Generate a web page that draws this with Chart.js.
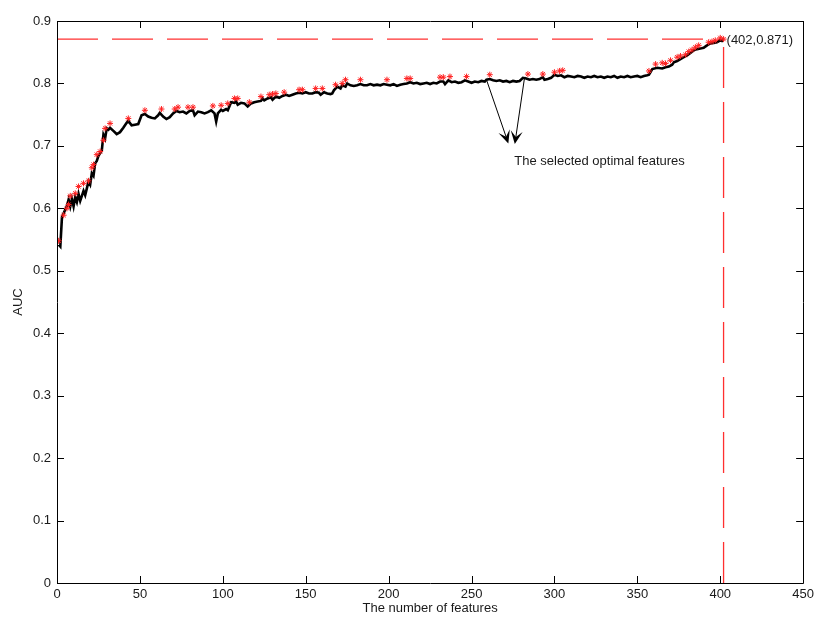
<!DOCTYPE html>
<html>
<head>
<meta charset="utf-8">
<script src="https://cdn.jsdelivr.net/npm/chart.js@4/dist/chart.umd.min.js"></script>
<style>
  html, body { margin: 0; padding: 0; background: #fff; }
  #wrap { width: 818px; height: 617px; }
</style>
</head>
<body>
<div id="wrap"><canvas id="auc" width="818" height="617"></canvas></div>
<script>
// AUC of the classifier as features are added one by one
const featureCount = [
  1, 2, 3, 4, 5, 6, 7, 8, 9, 10, 11, 12, 13, 14, 15, 16, 17, 18, 19, 20,
  21, 22, 23, 24, 25, 26, 27, 28, 29, 30, 31, 32, 34, 36, 38, 40, 42, 43, 45, 47,
  49, 51, 53, 55, 57, 59, 61, 62, 64, 66, 68, 70, 72, 74, 76, 78, 80, 82, 83, 85,
  87, 89, 91, 93, 95, 96, 97, 99, 100, 102, 103, 105, 107, 108, 109, 111, 113, 115, 117, 119,
  121, 123, 124, 125, 127, 129, 130, 132, 134, 136, 138, 140, 142, 144, 146, 148, 150, 152, 154, 156,
  158, 159, 161, 163, 165, 166, 167, 169, 171, 172, 174, 175, 177, 179, 181, 183, 185, 187, 189, 191,
  193, 195, 197, 199, 201, 203, 205, 207, 209, 211, 213, 215, 217, 219, 221, 223, 225, 227, 229, 231,
  233, 234, 236, 238, 240, 242, 244, 246, 248, 250, 252, 254, 256, 258, 259, 261, 263, 265, 267, 269,
  271, 273, 275, 277, 279, 281, 283, 285, 287, 289, 291, 293, 294, 296, 298, 300, 302, 304, 306, 308,
  310, 312, 314, 316, 318, 320, 322, 324, 326, 328, 330, 332, 334, 336, 338, 340, 342, 344, 346, 348,
  350, 352, 354, 356, 357, 359, 362, 365, 367, 369, 371, 372, 374, 376, 378, 380, 382, 384, 386, 388,
  390, 392, 394, 396, 398, 400, 401, 402
];
const aucValues = [
  0.542, 0.539, 0.586, 0.592, 0.598, 0.604, 0.614, 0.603, 0.615, 0.603, 0.618, 0.610, 0.623, 0.612, 0.620, 0.628, 0.621, 0.632, 0.643, 0.638,
  0.656, 0.652, 0.672, 0.676, 0.684, 0.688, 0.692, 0.718, 0.712, 0.728, 0.726, 0.729, 0.724, 0.719, 0.722, 0.729, 0.737, 0.740, 0.733, 0.734,
  0.735, 0.749, 0.751, 0.747, 0.745, 0.744, 0.749, 0.753, 0.747, 0.743, 0.746, 0.752, 0.756, 0.754, 0.755, 0.752, 0.756, 0.757, 0.749, 0.755,
  0.754, 0.752, 0.754, 0.757, 0.752, 0.739, 0.752, 0.758, 0.756, 0.759, 0.757, 0.770, 0.769, 0.771, 0.766, 0.769, 0.768, 0.763, 0.768, 0.770,
  0.771, 0.772, 0.776, 0.773, 0.776, 0.778, 0.774, 0.779, 0.777, 0.780, 0.782, 0.780, 0.782, 0.784, 0.785, 0.784, 0.786, 0.784, 0.784, 0.786,
  0.785, 0.782, 0.786, 0.784, 0.783, 0.784, 0.789, 0.795, 0.792, 0.797, 0.795, 0.800, 0.797, 0.796, 0.797, 0.799, 0.797, 0.797, 0.799, 0.797,
  0.798, 0.797, 0.799, 0.798, 0.797, 0.799, 0.796, 0.798, 0.799, 0.800, 0.802, 0.800, 0.801, 0.799, 0.800, 0.801, 0.799, 0.801, 0.800, 0.803,
  0.803, 0.799, 0.805, 0.802, 0.803, 0.801, 0.802, 0.805, 0.803, 0.801, 0.803, 0.802, 0.804, 0.803, 0.806, 0.807, 0.805, 0.804, 0.805, 0.803,
  0.804, 0.802, 0.804, 0.803, 0.804, 0.809, 0.808, 0.806, 0.807, 0.806, 0.807, 0.810, 0.806, 0.807, 0.809, 0.814, 0.812, 0.813, 0.810, 0.812,
  0.811, 0.810, 0.812, 0.811, 0.809, 0.811, 0.810, 0.812, 0.810, 0.811, 0.809, 0.811, 0.810, 0.812, 0.809, 0.811, 0.810, 0.812, 0.810, 0.811,
  0.812, 0.810, 0.812, 0.813, 0.814, 0.823, 0.825, 0.824, 0.826, 0.827, 0.830, 0.834, 0.836, 0.839, 0.842, 0.845, 0.849, 0.853, 0.855, 0.856,
  0.857, 0.861, 0.864, 0.865, 0.866, 0.869, 0.868, 0.871
];

// feature subsets marked as selected (red asterisks)
const starFeatures = [
  1, 4, 6, 7, 8, 11, 13, 16, 19, 21, 22, 24, 26, 28, 29, 32, 43, 53, 63, 71,
  73, 79, 82, 94, 99, 103, 107, 109, 116, 123, 128, 130, 132, 137, 146, 148, 156, 160, 168, 172,
  174, 183, 199, 211, 213, 231, 233, 237, 247, 261, 284, 293, 300, 303, 305, 357, 361, 365, 367, 370,
  374, 376, 379, 381, 383, 385, 387, 393, 395, 397, 400, 402
];
const starAuc = [
  0.548, 0.589, 0.600, 0.606, 0.620, 0.624, 0.635, 0.640, 0.644, 0.665, 0.670, 0.686, 0.691, 0.709, 0.728, 0.736, 0.744, 0.757, 0.759, 0.759,
  0.762, 0.762, 0.762, 0.764, 0.765, 0.768, 0.776, 0.776, 0.770, 0.779, 0.782, 0.783, 0.784, 0.786, 0.790, 0.790, 0.792, 0.792, 0.798, 0.800,
  0.806, 0.806, 0.806, 0.808, 0.808, 0.810, 0.810, 0.811, 0.811, 0.814, 0.815, 0.815, 0.818, 0.820, 0.821, 0.820, 0.831, 0.833, 0.832, 0.837,
  0.842, 0.844, 0.846, 0.851, 0.854, 0.858, 0.861, 0.866, 0.867, 0.869, 0.873, 0.871
];

// best subset and the callout pointing at two selected features
const optimum = { features: 402, auc: 0.871 };
const calloutArrows = [
  { from: [259.0, 0.806], to: [272.2, 0.704] },
  { from: [281.9, 0.808], to: [276.1, 0.703] }
];
const calloutText = 'The selected optimal features';
const calloutAt = [275.8, 0.675];

const xAxisTitle = 'The number of features';
const yAxisTitle = 'AUC';

const FONT = '"Liberation Sans", Arial, Helvetica, sans-serif';
const TEXT = '#1a1a1a';

const linePoints = featureCount.map((f, i) => ({ x: f, y: aucValues[i] }));
const starPoints = starFeatures.map((f, i) => ({ x: f, y: starAuc[i] }));

const frame = {
  id: 'frame',
  afterDatasetsDraw(chart) {
    const { ctx, chartArea: a, scales: { x, y } } = chart;
    ctx.save();
    // box and inward ticks
    ctx.strokeStyle = '#000';
    ctx.lineWidth = 1;
    ctx.beginPath();
    ctx.rect(Math.round(a.left) + 0.5, Math.round(a.top) + 0.5,
             Math.round(a.right - a.left), Math.round(a.bottom - a.top));
    ctx.stroke();
    const tl = 7;
    ctx.beginPath();
    x.ticks.forEach(t => {
      const px = Math.round(x.getPixelForValue(t.value)) + 0.5;
      ctx.moveTo(px, a.bottom); ctx.lineTo(px, a.bottom - tl);
      ctx.moveTo(px, a.top); ctx.lineTo(px, a.top + tl);
    });
    y.ticks.forEach(t => {
      const py = Math.round(y.getPixelForValue(t.value)) + 0.5;
      ctx.moveTo(a.left, py); ctx.lineTo(a.left + tl, py);
      ctx.moveTo(a.right, py); ctx.lineTo(a.right - tl, py);
    });
    ctx.stroke();

    // callout arrows
    ctx.fillStyle = '#000';
    ctx.lineWidth = 1;
    calloutArrows.forEach(ar => {
      const x0 = x.getPixelForValue(ar.from[0]), y0 = y.getPixelForValue(ar.from[1]);
      const x1 = x.getPixelForValue(ar.to[0]), y1 = y.getPixelForValue(ar.to[1]);
      const ang = Math.atan2(y1 - y0, x1 - x0);
      const L = 13, W = 6;
      ctx.beginPath();
      ctx.moveTo(x0, y0); ctx.lineTo(x1 - Math.cos(ang) * 6, y1 - Math.sin(ang) * 6);
      ctx.stroke();
      ctx.save();
      ctx.translate(x1, y1);
      ctx.rotate(ang);
      ctx.beginPath();
      ctx.moveTo(0, 0);
      ctx.lineTo(-L, W);
      ctx.lineTo(-L * 0.55, 0);
      ctx.lineTo(-L, -W);
      ctx.closePath();
      ctx.fill();
      ctx.restore();
    });

    // text annotations
    ctx.fillStyle = TEXT;
    ctx.font = '13px ' + FONT;
    ctx.textBaseline = 'middle';
    ctx.textAlign = 'left';
    ctx.fillText('(' + optimum.features + ',' + optimum.auc + ')',
      x.getPixelForValue(optimum.features) + 3, y.getPixelForValue(optimum.auc) + 1);
    ctx.fillText(calloutText, x.getPixelForValue(calloutAt[0]), y.getPixelForValue(calloutAt[1]));

    // axis titles
    ctx.textAlign = 'center';
    ctx.fillText(xAxisTitle, (a.left + a.right) / 2, 608);
    ctx.save();
    ctx.translate(18, (a.top + a.bottom) / 2);
    ctx.rotate(-Math.PI / 2);
    ctx.fillText(yAxisTitle, 0, 0);
    ctx.restore();
    ctx.restore();
  }
};

new Chart(document.getElementById('auc'), {
  type: 'line',
  data: {
    datasets: [
      {
        label: 'selected',
        data: starPoints,
        showLine: false,
        pointStyle: 'star',
        pointRadius: 3,
        pointBorderWidth: 1,
        pointBorderColor: '#ff2020',
        pointBackgroundColor: '#ff2020',
        order: 0
      },
      {
        label: 'AUC',
        data: linePoints,
        borderColor: '#000',
        borderWidth: 2.6,
        pointRadius: 0,
        tension: 0,
        order: 1
      },
      {
        label: 'optimum level',
        data: [{ x: 0, y: optimum.auc }, { x: optimum.features, y: optimum.auc }],
        borderColor: '#ff3030',
        borderWidth: 1.3,
        borderDash: [41, 14],
        pointRadius: 0,
        order: 2
      },
      {
        label: 'optimum size',
        data: [{ x: optimum.features, y: 0 }, { x: optimum.features, y: optimum.auc }],
        borderColor: '#ff3030',
        borderWidth: 1.3,
        borderDash: [41, 14],
        pointRadius: 0,
        order: 2
      }
    ]
  },
  options: {
    responsive: false,
    animation: false,
    events: [],
    layout: { padding: { top: 21, right: 12, left: 0, bottom: 0 } },
    plugins: { legend: { display: false }, tooltip: { enabled: false } },
    scales: {
      x: {
        type: 'linear',
        min: 0, max: 450,
        grid: { display: false, drawTicks: false },
        border: { display: false },
        ticks: { stepSize: 50, padding: 4, color: TEXT, font: { family: FONT, size: 13 }, maxRotation: 0 },
        afterFit(s) { s.height = 34; }
      },
      y: {
        min: 0, max: 0.9,
        grid: { display: false, drawTicks: false },
        border: { display: false },
        ticks: {
          stepSize: 0.1, padding: 6, color: TEXT, font: { family: FONT, size: 13 },
          callback: v => (Math.abs(v) < 1e-9 ? '0' : v.toFixed(1))
        },
        afterFit(s) { s.width = 57; }
      }
    }
  },
  plugins: [frame]
});
</script>
</body>
</html>
